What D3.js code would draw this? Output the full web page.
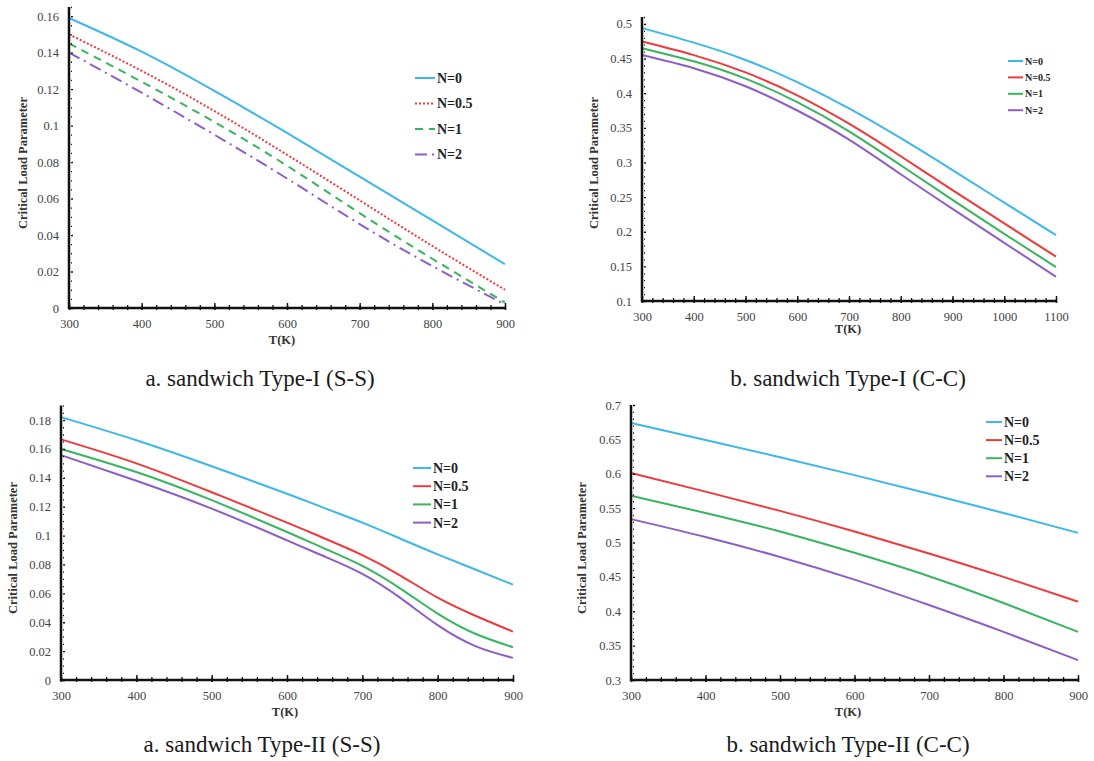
<!DOCTYPE html>
<html>
<head>
<meta charset="utf-8">
<script src="https://cdn.jsdelivr.net/npm/d3@7"></script>
<style>
  body { margin: 0; background: #fff; }
  svg text { font-family: "Times New Roman", "Liberation Serif", serif; }
</style>
</head>
<body>
<div id="chart"></div>
<script>
// ---- data ----
const seriesNames = ["N=0", "N=0.5", "N=1", "N=2"];

// a. sandwich Type-I (S-S)
const tempA1 = [300, 400, 500, 600, 700, 800, 900];
const a1_N0  = [0.159, 0.1405, 0.119, 0.096, 0.072, 0.048, 0.024];
const a1_N05 = [0.150, 0.130, 0.108, 0.084, 0.059, 0.034, 0.010];
const a1_N1  = [0.145, 0.124, 0.102, 0.078, 0.052, 0.027, 0.003];
const a1_N2  = [0.140, 0.118, 0.095, 0.071, 0.046, 0.023, 0.002];

// b. sandwich Type-I (C-C)
const tempB1 = [300, 400, 500, 600, 700, 800, 900, 1000, 1100];
const b1_N0  = [0.494, 0.473, 0.448, 0.416, 0.378, 0.335, 0.289, 0.242, 0.195];
const b1_N05 = [0.4745, 0.455, 0.430, 0.397, 0.356, 0.309, 0.260, 0.212, 0.164];
const b1_N1  = [0.465, 0.446, 0.421, 0.387, 0.345, 0.296, 0.246, 0.197, 0.149];
const b1_N2  = [0.455, 0.436, 0.410, 0.375, 0.333, 0.283, 0.233, 0.184, 0.135];

// a. sandwich Type-II (S-S)
const tempA2 = [300, 400, 500, 600, 650, 700, 750, 800, 850, 900];
const a2_N0  = [0.182, 0.166, 0.148, 0.129, 0.119, 0.109, 0.098, 0.087, 0.0765, 0.066];
const a2_N05 = [0.1666, 0.150, 0.130, 0.109, 0.098, 0.0865, 0.0725, 0.057, 0.0445, 0.0335];
const a2_N1  = [0.160, 0.144, 0.1245, 0.1025, 0.091, 0.079, 0.0635, 0.046, 0.032, 0.0227];
const a2_N2  = [0.1557, 0.138, 0.1187, 0.0967, 0.0855, 0.0735, 0.057, 0.038, 0.0235, 0.0153];

// b. sandwich Type-II (C-C)
const tempB2 = [300, 400, 500, 600, 700, 800, 900];
const b2_N0  = [0.674, 0.649, 0.624, 0.598, 0.571, 0.543, 0.514];
const b2_N05 = [0.601, 0.574, 0.546, 0.516, 0.484, 0.450, 0.414];
const b2_N1  = [0.568, 0.543, 0.516, 0.485, 0.451, 0.412, 0.370];
const b2_N2  = [0.534, 0.508, 0.479, 0.446, 0.409, 0.370, 0.329];

const colors = ["#3cb8ea", "#f03a3a", "#38b55e", "#8e5ec6"];
const serif = "'Times New Roman', 'Liberation Serif', serif";

const W = 1094, H = 761;
const svg = d3.select("#chart").append("svg")
  .attr("width", W).attr("height", H);

function drawPanel(p) {
  const g = svg.append("g");
  const x = d3.scaleLinear().domain(p.xDomain).range(p.xRange);
  const y = d3.scaleLinear().domain(p.yDomain).range(p.yRange);

  // lines
  const line = d3.line()
    .x(d => x(d[0]))
    .y(d => y(d[1]))
    .curve(d3.curveNatural);

  p.series.forEach((vals, i) => {
    g.append("path")
      .datum(p.temps.map((t, j) => [t, vals[j]]))
      .attr("d", line)
      .attr("fill", "none")
      .attr("stroke", colors[i])
      .attr("stroke-width", p.lw || 2)
      .attr("stroke-dasharray", p.dashes ? p.dashes[i] : null);
  });

  // minor ticks
  const yMinor = d3.range(p.yDomain[0], p.yDomain[1] + 1e-9, p.yMinor);
  const xMinor = d3.range(p.xDomain[0], p.xDomain[1] + 1e-9, 20);
  g.append("g")
    .attr("transform", `translate(${p.xRange[0]},0)`)
    .call(d3.axisLeft(y).tickValues(yMinor).tickSizeInner(-3).tickSizeOuter(0).tickFormat(""))
    .call(a => a.select(".domain").remove())
    .call(a => a.selectAll("line").attr("x1", 2).attr("stroke", "#111").attr("stroke-width", 1.3));
  g.append("g")
    .attr("transform", `translate(0,${p.yRange[0]})`)
    .call(d3.axisBottom(x).tickValues(xMinor).tickSizeInner(-3).tickSizeOuter(0).tickFormat(""))
    .call(a => a.select(".domain").remove())
    .call(a => a.selectAll("line").attr("y1", 2).attr("stroke", "#111").attr("stroke-width", 1.3));

  // major ticks + labels
  g.append("g")
    .attr("transform", `translate(${p.xRange[0]},0)`)
    .call(d3.axisLeft(y).tickValues(p.yTicks).tickSizeInner(-4).tickSizeOuter(0).tickPadding(10)
      .tickFormat(d => String(+d.toFixed(3))))
    .call(a => a.select(".domain").remove())
    .call(a => a.selectAll("line").attr("x1", 3).attr("stroke", "#111").attr("stroke-width", 1.4))
    .call(a => a.selectAll("text").attr("font-family", serif).attr("font-size", 12.5).attr("fill", "#444"));
  g.append("g")
    .attr("transform", `translate(0,${p.yRange[0]})`)
    .call(d3.axisBottom(x).tickValues(d3.range(p.xDomain[0], p.xDomain[1] + 1, 100))
      .tickSizeInner(-5).tickSizeOuter(0).tickPadding(11).tickFormat(d3.format("d")))
    .call(a => a.select(".domain").remove())
    .call(a => a.selectAll("line").attr("y1", 2).attr("stroke", "#111").attr("stroke-width", 1.4))
    .call(a => a.selectAll("text").attr("font-family", serif).attr("font-size", 12.5).attr("fill", "#444"));

  // axis lines
  g.append("path")
    .attr("d", `M${p.xRange[0]},${p.yRange[1]}V${p.yRange[0]}H${p.xRange[1]}`)
    .attr("fill", "none").attr("stroke", "#111").attr("stroke-width", 2.5);

  // axis titles
  g.append("text")
    .attr("transform", `translate(${p.yLabelX},${p.yLabelY}) rotate(-90)`)
    .attr("text-anchor", "middle").attr("font-family", serif)
    .attr("font-weight", "bold").attr("font-size", 12.5).attr("fill", "#333")
    .text("Critical Load Parameter");
  g.append("text")
    .attr("x", p.xLabelX).attr("y", p.xLabelY)
    .attr("text-anchor", "middle").attr("font-family", serif)
    .attr("font-weight", "bold").attr("font-size", 12.5).attr("fill", "#333")
    .text("T(K)");

  // legend
  const lg = g.append("g").attr("transform", `translate(${p.legX},${p.legY})`);
  seriesNames.forEach((n, i) => {
    const r = lg.append("g").attr("transform", `translate(0,${i * p.legStep})`);
    r.append("line")
      .attr("x1", 0).attr("x2", p.legLen).attr("y1", 0).attr("y2", 0)
      .attr("stroke", colors[i]).attr("stroke-width", 2)
      .attr("stroke-dasharray", p.dashes ? p.dashes[i] : null);
    r.append("text")
      .attr("x", p.legLen + 2).attr("dy", "0.35em")
      .attr("font-family", p.legFont)
      .attr("font-weight", "bold").attr("font-size", p.legSize).attr("fill", "#222")
      .text(n);
  });

  // caption
  svg.append("text")
    .attr("x", p.capX).attr("y", p.capY)
    .attr("text-anchor", "middle").attr("font-family", serif)
    .attr("font-size", 23).attr("fill", "#1a1a1a")
    .text(p.caption);
}

drawPanel({
  temps: tempA1, series: [a1_N0, a1_N05, a1_N1, a1_N2],
  xDomain: [300, 900], xRange: [69, 505],
  yDomain: [0, 0.165], yRange: [308, 7], yTicks: d3.range(0, 0.161, 0.02), yMinor: 0.005,
  dashes: [null, "2,2", "8,6", "12,5,2,5"],
  yLabelX: 27, yLabelY: 163, xLabelX: 282, xLabelY: 344,
  legX: 415, legY: 78, legStep: 25.5, legLen: 20, legFont: serif, legSize: 14,
  caption: "a. sandwich Type-I (S-S)", capX: 260, capY: 386
});

drawPanel({
  temps: tempB1, series: [b1_N0, b1_N05, b1_N1, b1_N2],
  xDomain: [300, 1100], xRange: [642, 1056],
  yDomain: [0.1, 0.51], yRange: [301, 17], yTicks: d3.range(0.1, 0.501, 0.05), yMinor: 0.01,
  yLabelX: 598, yLabelY: 163, xLabelX: 848, xLabelY: 333,
  legX: 1008, legY: 61, legStep: 16.4, legLen: 15, legFont: "'Liberation Sans', Arial, sans-serif", legSize: 10,
  caption: "b. sandwich Type-I (C-C)", capX: 848, capY: 386
});

drawPanel({
  temps: tempA2, series: [a2_N0, a2_N05, a2_N1, a2_N2],
  xDomain: [300, 900], xRange: [61, 513],
  yDomain: [0, 0.19], yRange: [680, 405.6], yTicks: d3.range(0, 0.181, 0.02), yMinor: 0.005,
  yLabelX: 17, yLabelY: 548, xLabelX: 285, xLabelY: 716,
  legX: 413, legY: 468, legStep: 18.2, legLen: 18, legFont: serif, legSize: 14,
  caption: "a. sandwich Type-II (S-S)", capX: 262, capY: 752
});

drawPanel({
  temps: tempB2, series: [b2_N0, b2_N05, b2_N1, b2_N2],
  xDomain: [300, 900], xRange: [631, 1078],
  yDomain: [0.3, 0.7], yRange: [680, 405], yTicks: d3.range(0.3, 0.701, 0.05), yMinor: 0.01,
  yLabelX: 586, yLabelY: 548, xLabelX: 848, xLabelY: 716,
  legX: 986, legY: 422, legStep: 18.1, legLen: 16, legFont: serif, legSize: 14,
  caption: "b. sandwich Type-II (C-C)", capX: 848, capY: 752
});
</script>
</body>
</html>
